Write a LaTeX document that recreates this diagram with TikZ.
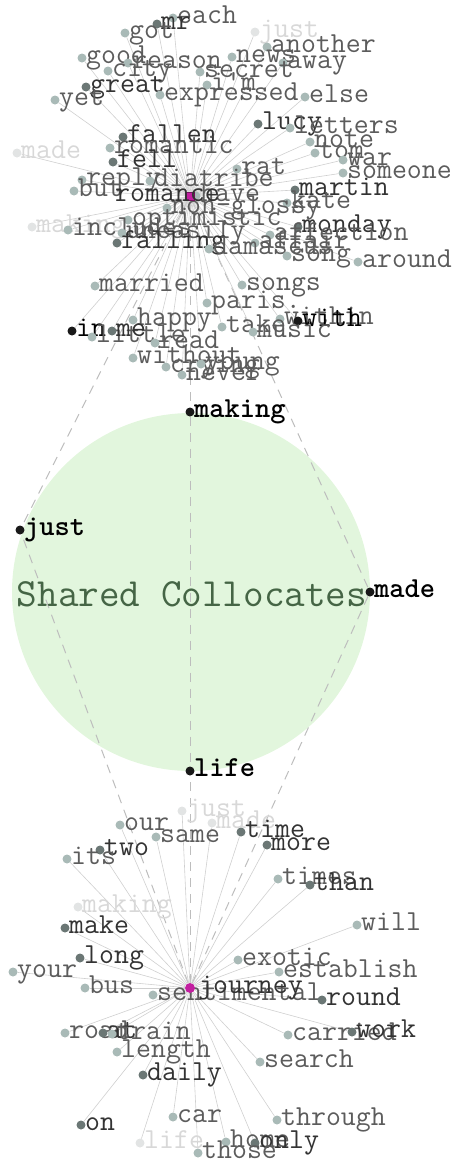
\documentclass[tikz,border=0pt]{standalone}
\usetikzlibrary{backgrounds}
\definecolor{dotL}{HTML}{A9BAB7}
\definecolor{dotD}{HTML}{6B7775}
\definecolor{dotF}{HTML}{E2E4E4}
\definecolor{txtL}{HTML}{5C5C5C}
\definecolor{txtD}{HTML}{333333}
\definecolor{txtF}{HTML}{D8D8D8}
\definecolor{edgeC}{HTML}{CFCFCF}
\definecolor{dashC}{HTML}{BDBDBD}
\definecolor{circC}{HTML}{E2F6DD}
\definecolor{circT}{HTML}{456545}
\definecolor{hubC}{HTML}{C21FA0}
\newcommand\wfont{\fontsize{29}{30}\selectfont\ttfamily}
\tikzset{
  ldot/.style={circle,fill=dotL,inner sep=0pt,minimum size=9pt},
  ddot/.style={circle,fill=dotD,inner sep=0pt,minimum size=9pt},
  bdot/.style={circle,fill=black!90,inner sep=0pt,minimum size=9pt},
  fdot/.style={circle,fill=dotF,inner sep=0pt,minimum size=9pt},
  ltxt/.style={text=txtL,font=\wfont,inner sep=0pt},
  dtxt/.style={text=txtD,font=\wfont,inner sep=0pt},
  btxt/.style={text=black,font=\wfont,inner sep=0pt},
  ftxt/.style={text=txtF,font=\wfont,inner sep=0pt},
  stxt/.style={text=black,font=\wfont\bfseries,inner sep=0pt},
  edge/.style={draw=edgeC,line width=0.6pt},
  dashedge/.style={draw=dashC,line width=1pt,dash pattern=on 9pt off 7pt},
}
\newcommand\wrd[5]{\node[#5dot] (#1) at (#2,#3) {};
  \node[#5txt,anchor=base west] (#1-t) at ([xshift=4pt,yshift=-5pt]#1.center) {#4};}
\begin{document}
\begin{tikzpicture}[x=1pt,y=-1pt]
\useasboundingbox (0,0) rectangle (463,1163);
% top cluster
\wrd{each}{173}{18}{each}{l}
\wrd{mr}{157}{24}{mr}{d}
\wrd{got}{125}{33}{got}{l}
\wrd{justT}{255}{32}{just}{f}
\wrd{another}{267}{47}{another}{l}
\wrd{good}{82}{58}{good}{l}
\wrd{reason}{128}{63}{reason}{l}
\wrd{news}{232}{57}{news}{l}
\wrd{away}{283}{63}{away}{l}
\wrd{city}{108}{71}{city}{l}
\wrd{secret}{200}{72}{secret}{l}
\wrd{great}{86}{87}{great}{d}
\wrd{im}{207}{85}{i'm}{l}
\wrd{expressed}{160}{95}{expressed}{l}
\wrd{else}{305}{97}{else}{l}
\wrd{yet}{55}{100}{yet}{l}
\wrd{lucy}{258}{124}{lucy}{d}
\wrd{letters}{290}{128}{letters}{l}
\wrd{fallen}{123}{137}{fallen}{d}
\wrd{madeT}{17}{153}{made}{f}
\wrd{romantic}{110}{148}{romantic}{l}
\wrd{fell}{113}{162}{fell}{d}
\wrd{note}{310}{142}{note}{l}
\wrd{tom}{315}{153}{tom}{l}
\wrd{war}{343}{160}{war}{l}
\wrd{rat}{237}{169}{rat}{l}
\wrd{someone}{343}{173}{someone}{l}
\wrd{reply}{82}{180}{reply}{l}
\wrd{diatribe}{150}{181}{diatribe}{l}
\wrd{but}{74}{191}{but}{l}
\wrd{martin}{295}{190}{martin}{d}
\wrd{have}{196}{196}{have}{l}
\wrd{kate}{287}{203}{kate}{l}
\wrd{nonglossy}{167}{208}{non-glossy}{l}
\wrd{optimistic}{128}{220}{optimistic}{l}
\wrd{monday}{298}{227}{monday}{d}
\wrd{makingT}{32}{227}{making}{f}
\wrd{includes}{68}{230}{includes}{l}
\wrd{uneasily}{122}{233}{uneasily}{l}
\wrd{affection}{270}{235}{affection}{l}
\wrd{falling}{117}{243}{falling}{d}
\wrd{affair}{255}{243}{affair}{l}
\wrd{damascus}{209}{249}{damascus}{l}
\wrd{song}{287}{256}{song}{l}
\wrd{around}{358}{262}{around}{l}
\wrd{married}{95}{286}{married}{l}
\wrd{songs}{242}{285}{songs}{l}
\wrd{paris}{207}{303}{paris.}{l}
\wrd{happy}{133}{320}{happy}{l}
\wrd{within}{280}{319}{within}{l}
\wrd{with}{298}{321}{with}{b}
\wrd{take}{222}{327}{take}{l}
\wrd{music}{253}{332}{music}{l}
\wrd{in}{72}{331}{in}{b}
\wrd{little}{92}{337}{little}{l}
\wrd{me}{112}{331}{me}{d}
\wrd{read}{155}{343}{read}{l}
\wrd{without}{133}{358}{without}{l}
\wrd{crying}{166}{367}{crying}{l}
\wrd{young}{201}{364}{young}{l}
\wrd{never}{182}{375}{never}{l}
% top hub
\node[rectangle,fill=hubC,draw=hubC!60!black,line width=0.6pt,minimum size=8pt,inner sep=0pt] (rom) at (190,196) {};
\node[dtxt,anchor=base west] (rom-t) at (115,201) {romance};
% shared collocates
\node[text=circT,font=\fontsize{40}{42}\selectfont\ttfamily,anchor=base] (areat) at (192,606) {Shared Collocates};
\node[bdot] (making) at (190,412) {};
\node[stxt,anchor=base west] (making-t) at ([xshift=4pt,yshift=-5pt]making.center) {making};
\node[bdot] (just) at (20,530) {};
\node[stxt,anchor=base west] (just-t) at ([xshift=4pt,yshift=-5pt]just.center) {just};
\node[bdot] (made) at (370,592) {};
\node[stxt,anchor=base west] (made-t) at ([xshift=4pt,yshift=-5pt]made.center) {made};
\node[bdot] (life) at (190,771) {};
\node[stxt,anchor=base west] (life-t) at ([xshift=4pt,yshift=-5pt]life.center) {life};
% bottom cluster
\wrd{justB}{182}{811}{just}{f}
\wrd{madeB}{212}{823}{made}{f}
\wrd{our}{120}{825}{our}{l}
\wrd{same}{156}{837}{same}{l}
\wrd{time}{241}{832}{time}{d}
\wrd{more}{267}{845}{more}{d}
\wrd{two}{100}{850}{two}{d}
\wrd{its}{67}{859}{its}{l}
\wrd{times}{278}{879}{times}{l}
\wrd{than}{310}{885}{than}{d}
\wrd{makingB}{78}{907}{making}{f}
\wrd{will}{357}{925}{will}{l}
\wrd{make}{65}{928}{make}{d}
\wrd{long}{80}{958}{long}{d}
\wrd{exotic}{238}{960}{exotic}{l}
\wrd{establish}{279}{972}{establish}{l}
\wrd{your}{13}{972}{your}{l}
\wrd{bus}{85}{988}{bus}{l}
\wrd{sentimental}{153}{995}{sentimental}{l}
\wrd{round}{322}{1000}{round}{d}
\wrd{road}{65}{1033}{road}{l}
\wrd{at}{103}{1033}{at}{d}
\wrd{train}{112}{1034}{train}{l}
\wrd{carried}{288}{1035}{carried}{l}
\wrd{work}{352}{1032}{work}{d}
\wrd{length}{117}{1052}{length}{l}
\wrd{search}{260}{1062}{search}{l}
\wrd{daily}{143}{1075}{daily}{d}
\wrd{car}{173}{1117}{car}{l}
\wrd{through}{277}{1120}{through}{l}
\wrd{on}{81}{1125}{on}{d}
\wrd{lifeB}{140}{1143}{life}{f}
\wrd{home}{226}{1142}{home}{l}
\wrd{only}{255}{1143}{only}{d}
\wrd{those}{198}{1153}{those}{l}
% bottom hub
\node[circle,fill=hubC,minimum size=10pt,inner sep=0pt] (jou) at (190,988) {};
\node[dtxt,anchor=base west] (jou-t) at (198,993) {journey};
% shared area and connectors, underneath everything
\begin{scope}[on background layer]
  \node[circle,fill=circC,minimum size=358pt,inner sep=0pt] (area) at (191,592) {};
  \foreach \n in {just,made} {
    \draw[dashedge] (rom) -- (\n);
    \draw[dashedge] (jou) -- (\n);
  }
  \draw[dashedge] (rom) -- (making);
  \draw[dashedge] (making) -- (life);
  \draw[dashedge] (jou) -- (life);
  \foreach \n in {each,mr,got,justT,another,good,reason,news,away,city,secret,great,im,expressed,else,yet,lucy,letters,fallen,madeT,romantic,fell,note,tom,war,rat,someone,reply,diatribe,but,martin,have,kate,nonglossy,optimistic,monday,makingT,includes,uneasily,affection,falling,affair,damascus,song,around,married,songs,paris,happy,within,with,take,music,in,little,me,read,without,crying,young,never}
    \draw[edge] (rom) -- (\n);
  \foreach \n in {justB,madeB,our,same,time,more,two,its,times,than,makingB,will,make,long,exotic,establish,your,bus,sentimental,round,road,at,train,carried,work,length,search,daily,car,through,on,lifeB,home,only,those}
    \draw[edge] (jou) -- (\n);
\end{scope}
\end{tikzpicture}
\end{document}
